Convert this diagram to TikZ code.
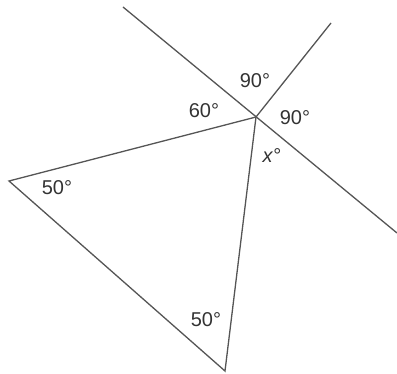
\documentclass[tikz,border=0pt]{standalone}
\usepackage{fontspec}
\setmainfont{Liberation Sans}
\definecolor{edgegray}{HTML}{555555}
\definecolor{labelgray}{HTML}{333333}
\tikzset{
  edge/.style={draw=edgegray, line width=1.3pt},
  angle label/.style={text=labelgray, inner sep=0pt, font=\fontsize{20}{22}\selectfont}
}
\begin{document}
\begin{tikzpicture}[x=1pt,y=-1pt]
    \useasboundingbox (0,0) rectangle (397,374);
    \coordinate (O) at (256,117);
    \coordinate (A) at (9,181);
    \coordinate (B) at (225,371);
    \coordinate (P) at (123,7);
    \coordinate (Q) at (397,233);
    \coordinate (R) at (331,23);
    \draw[edge] (A) -- (O) -- (B) -- cycle;
    \draw[edge] (P) -- (Q);
    \draw[edge] (O) -- (R);
    \node[angle label] (top90) at (255,81) {90°};
    \node[angle label] (right90) at (295,118) {90°};
    \node[angle label] (a60) at (204,111) {60°};
    \node[angle label] (ax) at (272,156) {\textit{x}°};
    \node[angle label] (left50) at (57,188) {50°};
    \node[angle label] (bottom50) at (206,320) {50°};
\end{tikzpicture}
\end{document}
